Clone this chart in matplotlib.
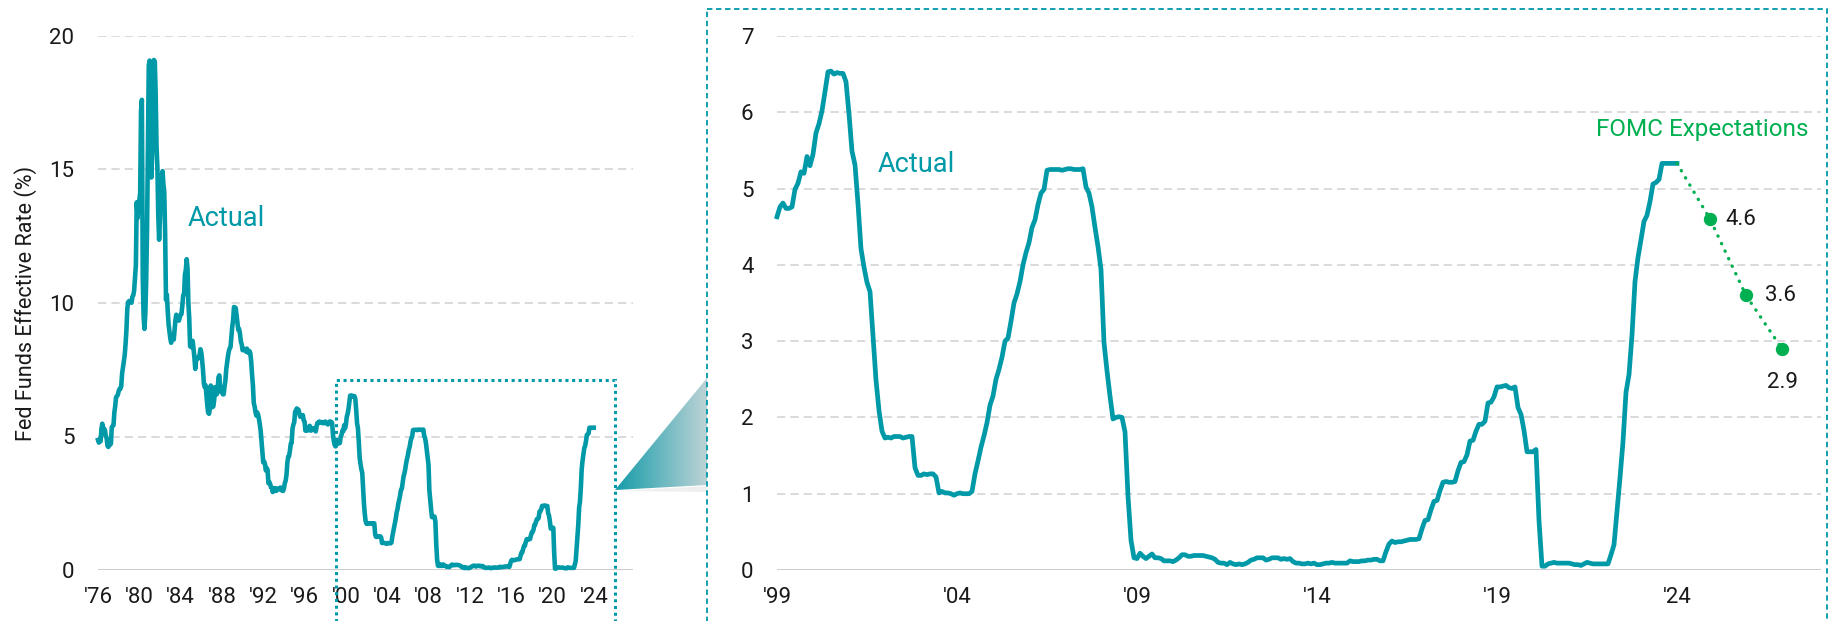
import numpy as np
import matplotlib.pyplot as plt
from matplotlib.patches import Polygon, Rectangle

plt.rcParams['font.family'] = ['Roboto', 'DejaVu Sans']

# monthly effective fed funds rate (%), Jan 1976 - Jan 2024
start_year = 1976
fed_funds = [
    4.87, 4.77, 4.84, 4.82, 5.29, 5.48, 5.31, 5.29, 5.25, 5.02, 4.95, 4.65,  # 1976
    4.61, 4.68, 4.69, 4.73, 5.35, 5.39, 5.42, 5.90, 6.14, 6.47, 6.51, 6.56,  # 1977
    6.70, 6.78, 6.79, 6.89, 7.36, 7.60, 7.81, 8.04, 8.45, 8.96, 9.76, 10.03,  # 1978
    10.07, 10.06, 10.09, 10.01, 10.24, 10.29, 10.47, 10.94, 11.43, 13.77, 13.18, 13.78,  # 1979
    13.82, 14.13, 17.19, 17.61, 10.98, 9.47, 9.03, 9.61, 10.87, 12.81, 15.85, 18.90,  # 1980
    19.08, 15.93, 14.70, 15.72, 18.52, 19.10, 19.04, 17.82, 15.87, 15.08, 13.31, 12.37,  # 1981
    13.22, 14.78, 14.68, 14.94, 14.45, 14.15, 12.59, 10.12, 10.31, 9.71, 9.20, 8.95,  # 1982
    8.68, 8.51, 8.77, 8.80, 8.63, 8.98, 9.37, 9.56, 9.45, 9.48, 9.34, 9.47,  # 1983
    9.56, 9.59, 9.91, 10.29, 10.32, 11.06, 11.23, 11.64, 11.30, 9.99, 9.43, 8.38,  # 1984
    8.35, 8.50, 8.58, 8.27, 7.97, 7.53, 7.88, 7.90, 7.92, 7.99, 8.05, 8.27,  # 1985
    8.14, 7.86, 7.48, 6.99, 6.85, 6.92, 6.56, 6.17, 5.89, 5.85, 6.04, 6.91,  # 1986
    6.43, 6.10, 6.13, 6.37, 6.85, 6.73, 6.58, 6.73, 7.22, 7.29, 6.69, 6.77,  # 1987
    6.83, 6.58, 6.58, 6.87, 7.09, 7.51, 7.75, 8.01, 8.19, 8.30, 8.35, 8.76,  # 1988
    9.12, 9.36, 9.85, 9.84, 9.81, 9.53, 9.24, 8.99, 9.02, 8.84, 8.55, 8.45,  # 1989
    8.23, 8.24, 8.28, 8.26, 8.18, 8.29, 8.15, 8.13, 8.20, 8.11, 7.81, 7.31,  # 1990
    6.91, 6.25, 6.12, 5.91, 5.78, 5.90, 5.82, 5.66, 5.45, 5.21, 4.81, 4.43,  # 1991
    4.03, 4.06, 3.98, 3.73, 3.82, 3.76, 3.25, 3.30, 3.22, 3.10, 3.09, 2.92,  # 1992
    3.02, 3.03, 3.07, 2.96, 3.00, 3.04, 3.06, 3.03, 3.09, 2.99, 3.02, 2.96,  # 1993
    3.05, 3.25, 3.34, 3.56, 4.01, 4.25, 4.26, 4.47, 4.73, 4.76, 5.29, 5.45,  # 1994
    5.53, 5.92, 5.98, 6.05, 6.01, 6.00, 5.85, 5.74, 5.80, 5.76, 5.80, 5.60,  # 1995
    5.56, 5.22, 5.31, 5.22, 5.24, 5.27, 5.40, 5.22, 5.30, 5.24, 5.31, 5.29,  # 1996
    5.25, 5.19, 5.39, 5.51, 5.50, 5.56, 5.52, 5.54, 5.54, 5.50, 5.52, 5.50,  # 1997
    5.56, 5.51, 5.49, 5.45, 5.49, 5.56, 5.54, 5.55, 5.51, 5.07, 4.83, 4.68,  # 1998
    4.63, 4.76, 4.81, 4.74, 4.74, 4.76, 4.99, 5.07, 5.22, 5.20, 5.42, 5.30,  # 1999
    5.45, 5.73, 5.85, 6.02, 6.27, 6.53, 6.54, 6.50, 6.52, 6.51, 6.51, 6.40,  # 2000
    5.98, 5.49, 5.31, 4.80, 4.21, 3.97, 3.77, 3.65, 3.07, 2.49, 2.09, 1.82,  # 2001
    1.73, 1.74, 1.73, 1.75, 1.75, 1.75, 1.73, 1.74, 1.75, 1.75, 1.34, 1.24,  # 2002
    1.24, 1.26, 1.25, 1.26, 1.26, 1.22, 1.01, 1.03, 1.01, 1.01, 1.00, 0.98,  # 2003
    1.00, 1.01, 1.00, 1.00, 1.00, 1.03, 1.26, 1.43, 1.61, 1.76, 1.93, 2.16,  # 2004
    2.28, 2.50, 2.63, 2.79, 3.00, 3.04, 3.26, 3.50, 3.62, 3.78, 4.00, 4.16,  # 2005
    4.29, 4.49, 4.59, 4.79, 4.94, 4.99, 5.24, 5.25, 5.25, 5.25, 5.25, 5.24,  # 2006
    5.25, 5.26, 5.26, 5.25, 5.25, 5.25, 5.26, 5.02, 4.94, 4.76, 4.49, 4.24,  # 2007
    3.94, 2.98, 2.61, 2.28, 1.98, 2.00, 2.01, 2.00, 1.81, 0.97, 0.39, 0.16,  # 2008
    0.15, 0.22, 0.18, 0.15, 0.18, 0.21, 0.16, 0.16, 0.15, 0.12, 0.12, 0.12,  # 2009
    0.11, 0.13, 0.16, 0.20, 0.20, 0.18, 0.18, 0.19, 0.19, 0.19, 0.19, 0.18,  # 2010
    0.17, 0.16, 0.14, 0.10, 0.09, 0.09, 0.07, 0.10, 0.08, 0.07, 0.08, 0.07,  # 2011
    0.08, 0.10, 0.13, 0.14, 0.16, 0.16, 0.16, 0.13, 0.14, 0.16, 0.16, 0.16,  # 2012
    0.14, 0.15, 0.14, 0.15, 0.11, 0.09, 0.09, 0.08, 0.08, 0.09, 0.08, 0.09,  # 2013
    0.07, 0.07, 0.08, 0.09, 0.09, 0.10, 0.09, 0.09, 0.09, 0.09, 0.09, 0.12,  # 2014
    0.11, 0.11, 0.11, 0.12, 0.12, 0.13, 0.13, 0.14, 0.14, 0.12, 0.12, 0.24,  # 2015
    0.34, 0.38, 0.36, 0.37, 0.37, 0.38, 0.39, 0.40, 0.40, 0.40, 0.41, 0.54,  # 2016
    0.65, 0.66, 0.79, 0.90, 0.91, 1.04, 1.15, 1.16, 1.15, 1.15, 1.16, 1.30,  # 2017
    1.41, 1.42, 1.51, 1.69, 1.70, 1.82, 1.91, 1.91, 1.95, 2.19, 2.20, 2.27,  # 2018
    2.40, 2.40, 2.41, 2.42, 2.39, 2.38, 2.40, 2.13, 2.04, 1.83, 1.55, 1.55,  # 2019
    1.55, 1.58, 0.65, 0.05, 0.05, 0.08, 0.09, 0.10, 0.09, 0.09, 0.09, 0.09,  # 2020
    0.09, 0.08, 0.07, 0.07, 0.06, 0.08, 0.10, 0.09, 0.08, 0.08, 0.08, 0.08,  # 2021
    0.08, 0.08, 0.20, 0.33, 0.77, 1.21, 1.68, 2.33, 2.56, 3.08, 3.78, 4.10,  # 2022
    4.33, 4.57, 4.65, 4.83, 5.06, 5.08, 5.12, 5.33, 5.33, 5.33, 5.33, 5.33,  # 2023
    5.33,  # 2024
]

# FOMC median projections for year-end fed funds rate
fomc_years = [2024, 2025, 2026]
fomc_median = [4.6, 3.6, 2.9]

left_ticks = list(range(1976, 2025, 4))
right_ticks = list(range(1999, 2025, 5))

teal = '#0099a8'
green = '#00b050'
grid_grey = '#d4d4d4'

dates = start_year + np.arange(len(fed_funds)) / 12.0
rates = np.array(fed_funds)
fomc_x = np.array(fomc_years) + 11 / 12.0

W, H = 1833, 621
fig = plt.figure(figsize=(W / 100, H / 100), dpi=100)


def px_axes(x0, x1, y_top, y_bot):
    return fig.add_axes([x0 / W, 1 - y_bot / H, (x1 - x0) / W, (y_bot - y_top) / H])


def style_axes(ax, ymax, step, xticks, labels):
    ax.set_facecolor('none')
    ax.set_ylim(0, ymax)
    ax.set_yticks(np.arange(0, ymax + 0.01, step))
    ax.set_xticks(xticks)
    ax.set_xticklabels(labels)
    for s in ax.spines.values():
        s.set_visible(False)
    ax.tick_params(axis='both', length=0, labelsize=16, colors='#1a1a1a')
    ax.tick_params(axis='y', pad=17)
    ax.tick_params(axis='x', pad=12)
    for t in ax.get_yticks()[1:]:
        ax.axhline(t, color=grid_grey, lw=1.2, ls=(0, (5, 3)), zorder=0)
    ax.axhline(0, color='#bdbdbd', lw=1.8, zorder=1)


# overview panel
ax1 = px_axes(98, 633, 36, 570)
ax1.set_xlim(1976, 2027.8)
style_axes(ax1, 20, 5, left_ticks, ["'" + str(y)[2:] for y in left_ticks])
ax1.plot(dates, rates, color=teal, lw=3.3, solid_joinstyle='round', zorder=3, clip_on=False)
ax1.text(1984.7, 13.15, 'Actual', color=teal, fontsize=19.5, ha='left', va='center')
ax1.set_ylabel('Fed Funds Effective Rate (%)', fontsize=15.6, color='#1a1a1a')
ax1.yaxis.set_label_coords(-61 / 535, 0.5)
ax1.add_patch(Rectangle((1999.0, -2.2), 27.1, 9.3, fill=False, edgecolor=teal,
                        lw=2.2, ls=(0, (1, 1.2)), clip_on=False, zorder=4))

# zoomed panel
ax2 = px_axes(777, 1821, 36, 570)
ax2.set_xlim(1999, 2028.0)
style_axes(ax2, 7, 1, right_ticks, ["'" + str(y)[2:] for y in right_ticks])
recent = dates >= 1999
ax2.plot(dates[recent], rates[recent], color=teal, lw=3.4, solid_joinstyle='round',
         zorder=3, clip_on=False)
ax2.text(2001.8, 5.31, 'Actual', color=teal, fontsize=19.5, ha='left', va='center')
ax2.plot(np.r_[dates[-1], fomc_x], np.r_[rates[-1], fomc_median], color=green, lw=2.4,
         ls=(0, (0.1, 2.4)), dash_capstyle='round', zorder=4)
ax2.plot(fomc_x, fomc_median, 'o', color=green, ms=8.6, zorder=5)
ax2.text(2024.7, 5.77, 'FOMC Expectations', color=green, fontsize=17.5, ha='center', va='center')
offsets = [(11, 0, 'left', 'center'), (14, 0, 'left', 'center'), (0, -24, 'center', 'center')]
for x, v, (dx, dy, ha, va) in zip(fomc_x, fomc_median, offsets):
    ax2.annotate(f'{v}', (x, v), xytext=(dx, dy), textcoords='offset points',
                 fontsize=16, color='#1a1a1a', ha=ha, va=va)

# overlay in pixel space for the connector and frame
over = fig.add_axes([0, 0, 1, 1], zorder=-1)
over.set_xlim(0, W)
over.set_ylim(H, 0)
over.axis('off')

tri = [(615, 490), (707, 378), (707, 485)]
shadow = Polygon([(618, 491), (707, 486), (707, 492)], closed=True, color='#9a9a9a',
                 alpha=0.15, lw=0)
over.add_patch(shadow)
clip = Polygon(tri, closed=True, facecolor='none', edgecolor='none')
over.add_patch(clip)
c0 = np.array([0x14, 0x9c, 0xa9]) / 255
c1 = np.array([0xbd, 0xd3, 0xd6]) / 255
t = np.linspace(0, 1, 200)
grad = (c0[None, :] * (1 - t[:, None]) + c1[None, :] * t[:, None])[None, :, :]
img = over.imshow(grad, extent=(615, 707, 490, 378), aspect='auto', interpolation='bilinear')
img.set_clip_path(clip)

over.add_patch(Rectangle((707, 9), 1827 - 707, 700, fill=False, edgecolor=teal,
                         lw=1.3, ls=(0, (3, 2)), clip_on=False))

fig.savefig('out.png', dpi=100)
